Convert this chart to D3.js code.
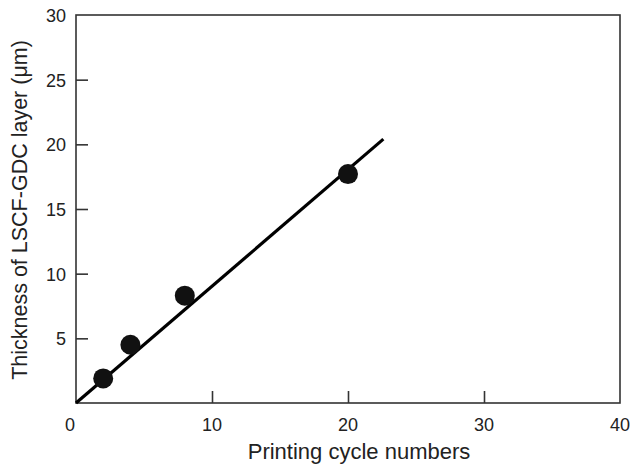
<!DOCTYPE html>
<meta charset="utf-8">
<script src="https://d3js.org/d3.v7.min.js"></script>
<style>
  body { margin: 0; background: #fff; }
  text { font-family: "Liberation Sans", Arial, sans-serif; fill: #222; }
</style>
<div id="my_dataviz"></div>
<script>

// Measured points (printing cycles vs layer thickness)
var cycles = [2, 4, 8, 20];
var thickness = [1.9, 4.5, 8.3, 17.7];

// Fitted line end points
var fitX = [0, 22.6];
var fitY = [0, 20.4];

var xTicks = [10, 20, 30];
var yTicks = [5, 10, 15, 20, 25];
var xLabels = [0, 10, 20, 30, 40];
var yLabels = [30, 25, 20, 15, 10, 5];

var margin = {top: 15, right: 10, bottom: 64, left: 76},
    width = 630 - margin.left - margin.right,
    height = 467 - margin.top - margin.bottom;

var svg = d3.select("#my_dataviz")
  .append("svg")
    .attr("width", 630)
    .attr("height", 467)
  .append("g")
    .attr("transform", "translate(" + margin.left + "," + margin.top + ")");

var x = d3.scaleLinear().domain([0, 40]).range([0, 544]);
var y = d3.scaleLinear().domain([0, 30]).range([height, 0]);

// Frame
svg.append("rect")
  .attr("x", 0).attr("y", 0)
  .attr("width", x(40)).attr("height", height)
  .attr("fill", "none")
  .attr("stroke", "#333")
  .attr("stroke-width", 1.6);

// Inward ticks
svg.append("g")
  .attr("transform", "translate(0," + height + ")")
  .call(d3.axisBottom(x).tickValues(xTicks).tickSizeInner(-12).tickSizeOuter(0).tickFormat(""))
  .call(function(g) { g.select(".domain").remove(); })
  .selectAll("line").attr("stroke", "#333").attr("stroke-width", 1.6);

svg.append("g")
  .call(d3.axisLeft(y).tickValues(yTicks).tickSizeInner(-12).tickSizeOuter(0).tickFormat(""))
  .call(function(g) { g.select(".domain").remove(); })
  .selectAll("line").attr("stroke", "#333").attr("stroke-width", 1.6);

// Tick labels
svg.selectAll(".xl")
  .data(xLabels)
  .enter()
  .append("text")
    .attr("x", function(d) { return x(d) - (d === 0 ? 6 : 0); })
    .attr("y", height + 28)
    .attr("text-anchor", "middle")
    .style("font-size", "18px")
    .text(function(d) { return d; });

svg.selectAll(".yl")
  .data(yLabels)
  .enter()
  .append("text")
    .attr("x", -10)
    .attr("y", function(d) { return y(d) + 7; })
    .attr("text-anchor", "end")
    .style("font-size", "18px")
    .text(function(d) { return d; });

// Fit line
svg.append("line")
  .attr("x1", x(fitX[0])).attr("y1", y(fitY[0]))
  .attr("x2", x(fitX[1])).attr("y2", y(fitY[1]))
  .attr("stroke", "#000")
  .attr("stroke-width", 3.2);

// Points
svg.selectAll("circle")
  .data(cycles)
  .enter()
  .append("circle")
    .attr("cx", function(d) { return x(d); })
    .attr("cy", function(d, i) { return y(thickness[i]); })
    .attr("r", 10)
    .attr("fill", "#111");

// Axis titles
svg.append("text")
  .attr("x", 283)
  .attr("y", height + 56)
  .attr("text-anchor", "middle")
  .style("font-size", "22px")
  .text("Printing cycle numbers");

svg.append("text")
  .attr("transform", "translate(-49," + (210 - margin.top) + ") rotate(-90)")
  .attr("text-anchor", "middle")
  .style("font-size", "21.5px")
  .text("Thickness of LSCF-GDC layer (\u03bcm)");

</script>
